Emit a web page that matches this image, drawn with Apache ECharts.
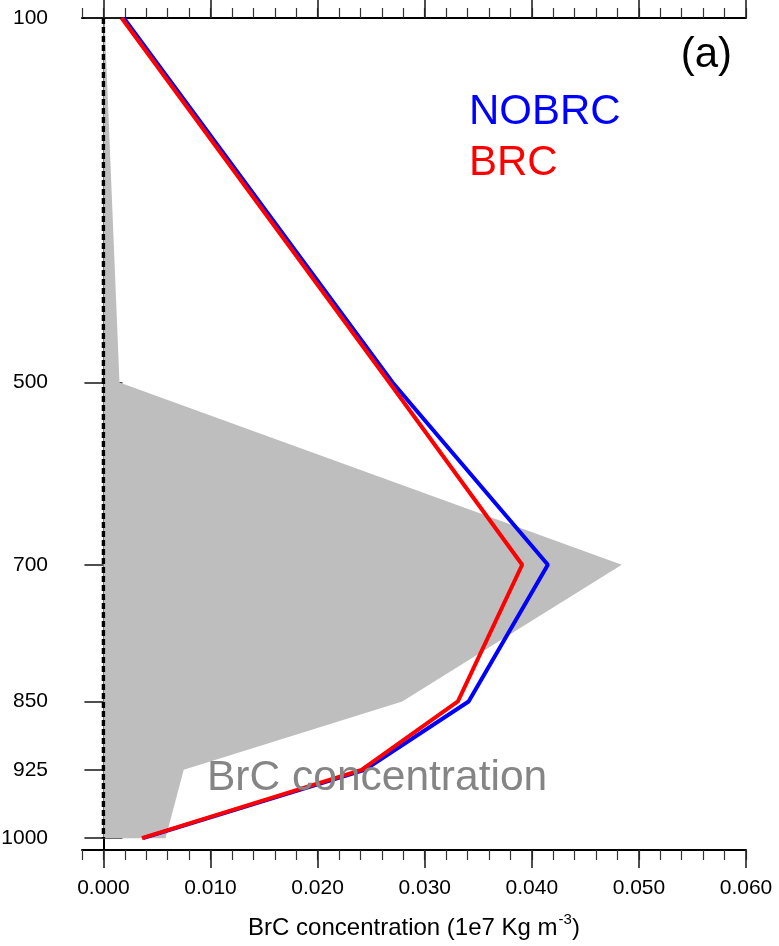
<!DOCTYPE html>
<html>
<head>
<meta charset="utf-8">
<script src="https://cdn.jsdelivr.net/npm/echarts@6/dist/echarts.min.js"></script>
<style>
html,body{margin:0;padding:0;background:#fff;}
#chart{width:779px;height:946px;}
</style>
</head>
<body>
<div id="chart"></div>
<script>
// Pressure levels (hPa) and profile values
const levels = [100, 500, 700, 850, 925, 1000];
const nobrc = [0.0019, 0.0270, 0.0415, 0.0341, 0.0244, 0.0037];
const brc = [0.0017, 0.0267, 0.0391, 0.0331, 0.0241, 0.0036];
const brcConc = [0.0001, 0.0015, 0.0484, 0.0279, 0.0075, 0.0058];
const zeroLine = [0, 0, 0, 0, 0, 0];
const xTickValues = [0, 0.01, 0.02, 0.03, 0.04, 0.05, 0.06];
const yTickValues = [100, 500, 700, 850, 925, 1000];
const xName = 'BrC concentration (1e7 Kg m';

const FONT = '"Liberation Sans", Arial, Helvetica, sans-serif';
const XMIN = -0.002, XMAX = 0.06, YMIN = 100, YMAX = 1013;

const chart = echarts.init(document.getElementById('chart'), null, {renderer: 'canvas'});

const pair = (xs) => levels.map((p, i) => [xs[i], p]);

function minorX(position) {
  return {
    type: 'value', position: position, min: XMIN, max: XMAX, interval: 0.002,
    axisLine: {show: true, lineStyle: {color: '#000', width: 2}},
    axisTick: {show: true, inside: false, length: 10, lineStyle: {color: '#333', width: 1.2}},
    axisLabel: {show: false},
    splitLine: {show: false}
  };
}
function majorX(position, showLabel) {
  return {
    type: 'value', position: position, min: XMIN, max: XMAX,
    axisLine: {show: false},
    axisTick: {show: true, inside: false, length: 18, customValues: xTickValues,
      lineStyle: {color: '#222', width: 1.6}},
    axisLabel: {show: showLabel, customValues: xTickValues, margin: 28,
      fontFamily: FONT, fontSize: 21, color: '#000',
      formatter: (v) => Number(v).toFixed(3)},
    splitLine: {show: false},
    name: showLabel ? '{a|' + xName + '}{s|-3}{a|)}' : '',
    nameLocation: 'middle',
    nameGap: 62,
    nameTextStyle: {
      rich: {
        a: {fontFamily: FONT, fontSize: 24, color: '#000', lineHeight: 28, verticalAlign: 'bottom'},
        s: {fontFamily: FONT, fontSize: 15, color: '#000', lineHeight: 28, verticalAlign: 'top', padding: [0, 0, 0, 1]}
      }
    }
  };
}
function yAxisDef(position, showLabel) {
  return {
    type: 'value', position: position, inverse: true, min: YMIN, max: YMAX,
    axisLine: {show: true, lineStyle: {color: '#000', width: 2}},
    axisTick: {show: true, inside: false, length: 19, customValues: yTickValues,
      lineStyle: {color: '#222', width: 1.6}},
    axisLabel: {show: showLabel, customValues: yTickValues, margin: 34,
      fontFamily: FONT, fontSize: 21, color: '#000',
      formatter: (v) => String(v)},
    splitLine: {show: false}
  };
}

const option = {
  animation: false,
  backgroundColor: '#fff',
  grid: {left: 82, right: 33, top: 18, bottom: 96, containLabel: false, outerBoundsMode: 'none'},
  xAxis: [minorX('bottom'), majorX('bottom', true), minorX('top'), majorX('top', false)],
  yAxis: [yAxisDef('left', true), yAxisDef('right', false)],
  series: [
    {
      type: 'custom',
      name: 'BrC concentration',
      xAxisIndex: 0, yAxisIndex: 0,
      data: pair(brcConc),
      encode: {x: 0, y: 1},
      z: 1,
      renderItem: function (params, api) {
        if (params.dataIndex !== 0) return null;
        const pts = levels.map((p, i) => api.coord([brcConc[i], p]));
        pts.push(api.coord([0, levels[levels.length - 1]]));
        pts.push(api.coord([0, levels[0]]));
        return {type: 'polygon', shape: {points: pts}, style: {fill: '#bebebe'}};
      }
    },
    {
      type: 'line', name: 'zero', xAxisIndex: 0, yAxisIndex: 0,
      data: pair(zeroLine), symbol: 'none', z: 2,
      lineStyle: {color: '#000', width: 3.4, type: [6, 3]}
    },
    {
      type: 'line', name: 'NOBRC', xAxisIndex: 0, yAxisIndex: 0,
      data: pair(nobrc), symbol: 'none', z: 3,
      lineStyle: {color: '#0000ff', width: 4}
    },
    {
      type: 'line', name: 'BRC', xAxisIndex: 0, yAxisIndex: 0,
      data: pair(brc), symbol: 'none', z: 4,
      lineStyle: {color: '#ff0000', width: 4}
    }
  ],
  graphic: [
    {type: 'text', x: 732, y: 55, z: 10,
      style: {text: '(a)', fontFamily: FONT, fontSize: 42, fill: '#000', align: 'right', verticalAlign: 'middle'}},
    {type: 'text', x: 469, y: 112, z: 10,
      style: {text: 'NOBRC', fontFamily: FONT, fontSize: 42, fill: '#0000ff', align: 'left', verticalAlign: 'middle'}},
    {type: 'text', x: 469, y: 163, z: 10,
      style: {text: 'BRC', fontFamily: FONT, fontSize: 42, fill: '#ff0000', align: 'left', verticalAlign: 'middle'}},
    {type: 'text', x: 207, y: 778, z: 10,
      style: {text: 'BrC concentration', fontFamily: FONT, fontSize: 42.5, fill: '#858585', align: 'left', verticalAlign: 'middle'}}
  ]
};
chart.setOption(option);
</script>
</body>
</html>
